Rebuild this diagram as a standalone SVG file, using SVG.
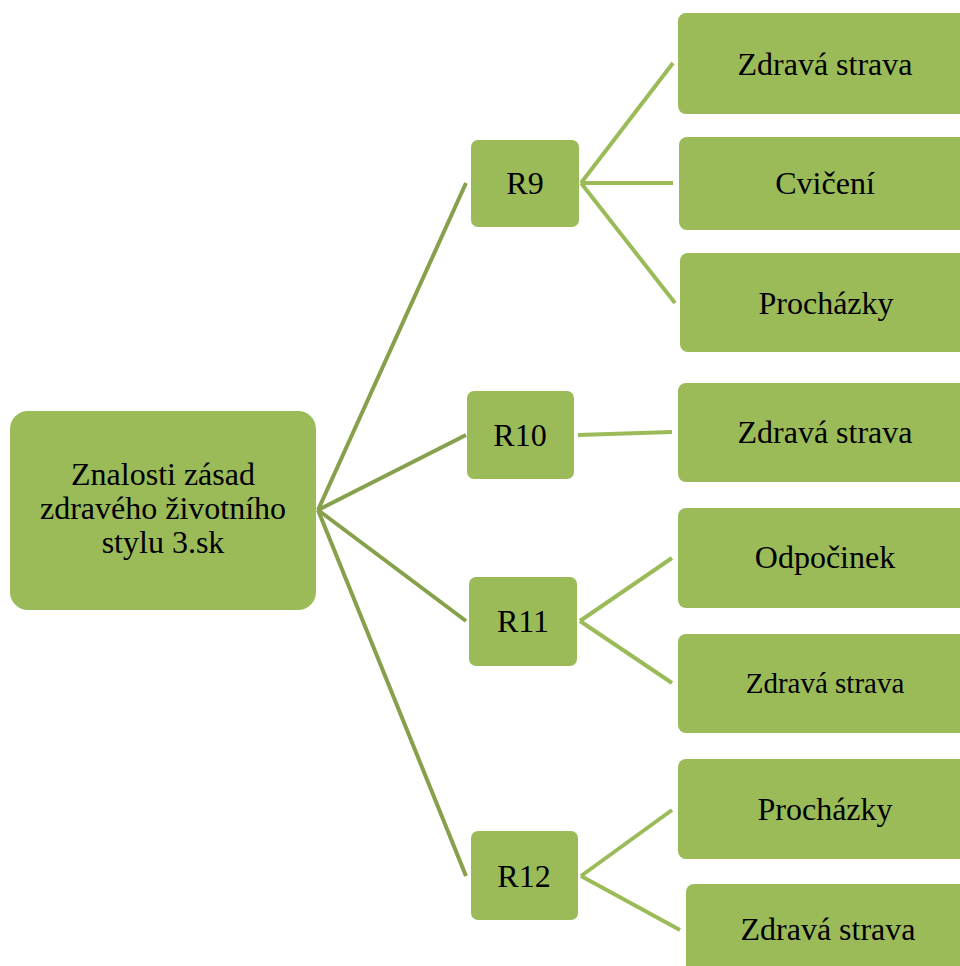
<svg xmlns="http://www.w3.org/2000/svg" width="960" height="966" viewBox="0 0 960 966">
<style>
.box{fill:#9bbb59;}
.t{font-family:'Liberation Serif','Times New Roman','DejaVu Serif',serif;font-size:32px;fill:#000;text-anchor:middle;}
.c1{stroke:#87a04c;stroke-width:4;fill:none;}
.c2{stroke:#9bbb59;stroke-width:4;fill:none;}
</style>
<rect width="960" height="966" fill="#ffffff"/>
<g id="connectors">
<line class="c1" x1="318" y1="510" x2="466" y2="183"/>
<line class="c1" x1="318" y1="510" x2="466" y2="435"/>
<line class="c1" x1="318" y1="510" x2="466" y2="621"/>
<line class="c1" x1="318" y1="510" x2="466" y2="876"/>
<line class="c2" x1="581" y1="183" x2="673" y2="63"/>
<line class="c2" x1="581" y1="183" x2="673" y2="183"/>
<line class="c2" x1="581" y1="183" x2="675" y2="303"/>
<line class="c2" x1="578" y1="435" x2="672" y2="432"/>
<line class="c2" x1="580" y1="621" x2="672" y2="558"/>
<line class="c2" x1="580" y1="621" x2="672" y2="683"/>
<line class="c2" x1="581" y1="876" x2="672" y2="810"/>
<line class="c2" x1="581" y1="876" x2="680" y2="930"/>
</g>
<g id="root">
<rect class="box" x="10" y="411" width="306" height="199" rx="18"/>
<text class="t" x="163" y="485">Znalosti zásad</text>
<text class="t" x="163" y="519">zdravého životního</text>
<text class="t" x="163" y="553">stylu 3.sk</text>
</g>
<g id="r9">
<rect class="box" x="471" y="140" width="108" height="87" rx="7"/>
<text class="t" x="525" y="194">R9</text>
</g>
<g id="r10">
<rect class="box" x="467" y="391" width="107" height="88" rx="7"/>
<text class="t" x="520" y="446">R10</text>
</g>
<g id="r11">
<rect class="box" x="469" y="577" width="108" height="89" rx="7"/>
<text class="t" x="523" y="632">R11</text>
</g>
<g id="r12">
<rect class="box" x="471" y="831" width="107" height="89" rx="7"/>
<text class="t" x="524" y="887">R12</text>
</g>
<g id="r9a">
<rect class="box" x="678" y="13" width="294" height="101" rx="8"/>
<text class="t" x="825" y="75">Zdravá strava</text>
</g>
<g id="r9b">
<rect class="box" x="679" y="137" width="294" height="93" rx="8"/>
<text class="t" x="825" y="194">Cvičení</text>
</g>
<g id="r9c">
<rect class="box" x="680" y="253" width="294" height="99" rx="8"/>
<text class="t" x="826" y="314">Procházky</text>
</g>
<g id="r10a">
<rect class="box" x="678" y="383" width="294" height="99" rx="8"/>
<text class="t" x="825" y="443">Zdravá strava</text>
</g>
<g id="r11a">
<rect class="box" x="678" y="508" width="294" height="100" rx="8"/>
<text class="t" x="825" y="568">Odpočinek</text>
</g>
<g id="r11b">
<rect class="box" x="678" y="634" width="294" height="99" rx="8"/>
<text class="t" x="825" y="693" style="font-size:29px">Zdravá strava</text>
</g>
<g id="r12a">
<rect class="box" x="678" y="759" width="294" height="100" rx="8"/>
<text class="t" x="825" y="820">Procházky</text>
</g>
<g id="r12b">
<rect class="box" x="686" y="884" width="294" height="100" rx="8"/>
<text class="t" x="828" y="940">Zdravá strava</text>
</g>
</svg>
